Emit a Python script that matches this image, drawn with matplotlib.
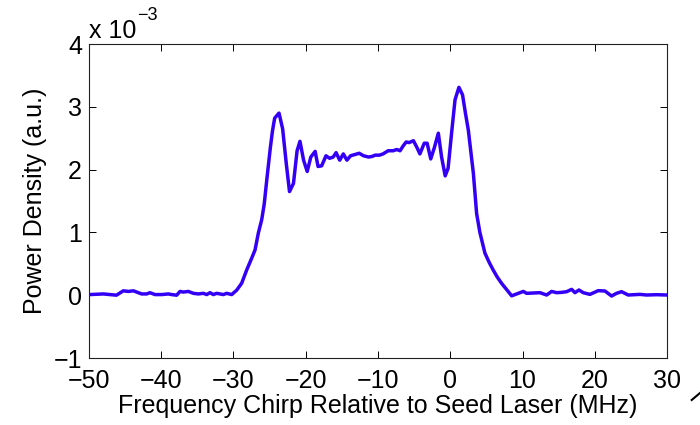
import matplotlib
matplotlib.use("Agg")
import matplotlib.pyplot as plt
from matplotlib.lines import Line2D

plt.rcParams['font.family'] = ['Liberation Sans', 'DejaVu Sans']

# frequency chirp (MHz) and power density (x 1e-3 a.u.)
freq = [-49.9, -48.0, -46.2, -45.25, -44.56, -43.86, -43.4, -42.71, -42.02, -41.56,
        -40.86, -39.94, -39.02, -38.56, -37.87, -37.4, -36.94, -36.25, -35.56, -34.87,
        -34.17, -33.71, -33.25, -32.79, -32.33, -31.41, -30.95, -30.25,
        -29.56, -28.87, -28.18, -27.48, -27.02, -26.56, -26.1, -25.75, -25.4,
        -24.9, -24.6, -24.3, -23.7, -23.2, -22.7, -22.25, -21.7, -21.2, -20.8,
        -20.3, -19.8, -19.3, -18.7, -18.3, -17.8, -17.2, -16.7, -16.2, -15.8,
        -15.3, -14.8, -14.3, -13.8, -13.2, -12.6, -12.0, -11.3, -10.8, -10.4,
        -9.8, -9.3, -8.6, -7.9, -7.4, -6.95, -6.5, -6.1, -5.7, -5.1, -4.6, -4.2,
        -3.6, -3.2, -2.7, -2.2, -1.65, -1.2, -0.7, -0.3, 0.2, 0.66, 1.2, 1.7,
        2.1, 2.5, 3.2, 3.65, 4.1, 4.8, 5.4, 5.95, 6.5, 7.1, 7.8, 8.5,
        9.19, 10.11, 10.57, 11.49, 12.42, 13.34, 14.03, 14.72, 15.41, 16.11, 16.8,
        17.26, 17.81, 18.41, 19.33, 20.48, 21.41, 22.33, 23.02, 23.71, 24.63,
        26.25, 27.17, 28.55, 30.0]
power = [0.01, 0.02, 0.00, 0.07, 0.06, 0.07, 0.05, 0.02, 0.02, 0.04,
         0.01, 0.01, 0.02, 0.01, 0.0, 0.06, 0.05, 0.06, 0.03, 0.02,
         0.03, 0.01, 0.04, 0.01, 0.03, 0.01, 0.03, 0.01,
         0.08, 0.19, 0.40, 0.59, 0.72, 0.99, 1.20, 1.45, 1.83,
         2.35, 2.62, 2.82, 2.90, 2.65, 2.10, 1.65, 1.78, 2.30, 2.45,
         2.15, 1.97, 2.20, 2.29, 2.05, 2.06, 2.22, 2.18, 2.20, 2.27,
         2.15, 2.25, 2.15, 2.22, 2.24, 2.26, 2.22, 2.20, 2.21, 2.23,
         2.23, 2.25, 2.30, 2.30, 2.32, 2.30, 2.38, 2.44, 2.43, 2.46, 2.35, 2.25,
         2.42, 2.42, 2.17, 2.35, 2.58, 2.20, 1.90, 2.02, 2.60, 3.11, 3.31, 3.19,
         2.90, 2.63, 1.94, 1.30, 1.00, 0.67, 0.52, 0.40, 0.29, 0.19, 0.09, -0.01,
         0.02, 0.06, 0.03, 0.035, 0.04, 0.003, 0.06, 0.04, 0.045, 0.056, 0.093,
         0.04, 0.083, 0.04, 0.013, 0.072, 0.067, -0.013, 0.03, 0.056, 0.003,
         0.013, 0.003, 0.008, 0.003]

xticks = [-50, -40, -30, -20, -10, 0, 10, 20, 30]
yticks = [-1, 0, 1, 2, 3, 4]

fig = plt.figure(figsize=(7, 4.25), dpi=100)
ax = fig.add_axes([89 / 700, 67 / 425, 578 / 700, 314 / 425])

ax.plot(freq, power, color='#3300f5', linewidth=2.5, solid_joinstyle='round')

ax.set_xlim(-50, 30)
ax.set_ylim(-1, 4)
ax.set_xticks(xticks)
ax.set_yticks(yticks)
ax.tick_params(direction='in', length=5, width=0.7, top=True, right=True,
               labelsize=18, pad=5, colors='black')
ax.tick_params(axis='x', pad=8)
for s in ax.spines.values():
    s.set_linewidth(0.8)
    s.set_color('#222222')

ax.set_xlabel('Frequency Chirp Relative to Seed Laser (MHz)', fontsize=18, labelpad=1)
ax.set_ylabel('Power Density (a.u.)', fontsize=18, labelpad=5)

# exponent label like matlab
fig.text(89 / 700, (425 - 38) / 425, 'x 10', fontsize=18, ha='left', va='baseline')
fig.text(137 / 700, (425 - 20) / 425, '\u22123', fontsize=13, ha='left', va='baseline')

# small stray stroke at the lower right corner
fig.add_artist(Line2D([691.7 / 700, 700 / 700], [(425 - 400) / 425, (425 - 393) / 425],
                      color='black', linewidth=1.5))

fig.savefig('out.png', dpi=100)
